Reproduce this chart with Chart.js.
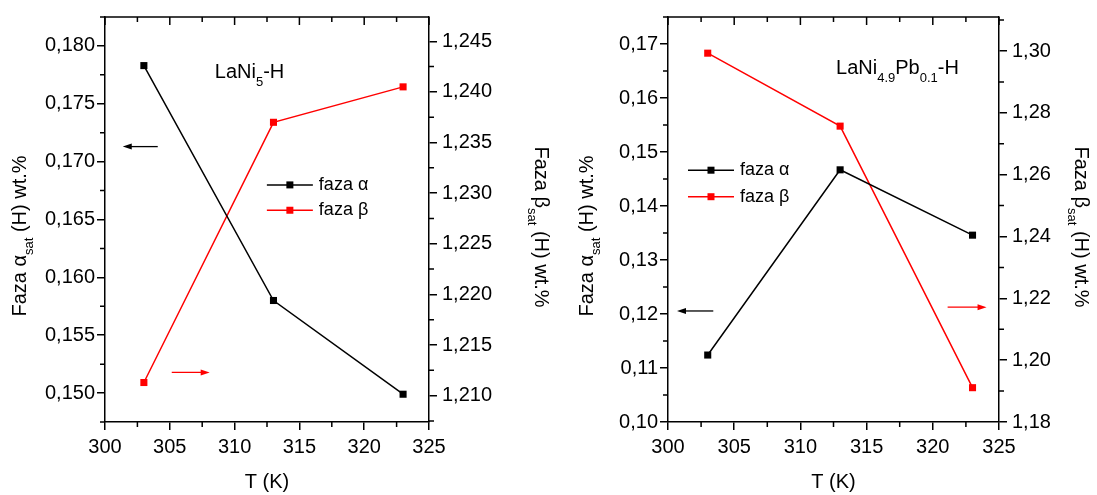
<!DOCTYPE html>
<html>
<head>
<meta charset="utf-8">
<script src="https://cdn.jsdelivr.net/npm/chart.js@4.4.0/dist/chart.umd.min.js"></script>
<style>
  html, body { margin: 0; padding: 0; background: #fff; }
  .panel { position: absolute; top: 0; height: 495px; }
</style>
</head>
<body>
<div class="panel" style="left:0;width:550px"><canvas id="c1" width="550" height="495"></canvas></div>
<div class="panel" style="left:550px;width:547px"><canvas id="c2" width="547" height="495"></canvas></div>
<script>
// Temperatura (K)
const temps = [303, 313, 323];

// LaNi5-H
const alphaLaNi5 = [0.1783, 0.1580, 0.1499];
const betaLaNi5 = [1.2113, 1.2370, 1.2405];

// LaNi4.9Pb0.1-H
const alphaPb = [0.1124, 0.1467, 0.1346];
const betaPb = [1.2993, 1.2757, 1.1911];

// Etiquetas de los ejes
const xTicks = [300, 305, 310, 315, 320, 325];
const leftTicks1 = [0.150, 0.155, 0.160, 0.165, 0.170, 0.175, 0.180];
const rightTicks1 = [1.210, 1.215, 1.220, 1.225, 1.230, 1.235, 1.240, 1.245];
const leftTicks2 = [0.10, 0.11, 0.12, 0.13, 0.14, 0.15, 0.16, 0.17];
const rightTicks2 = [1.18, 1.20, 1.22, 1.24, 1.26, 1.28, 1.30];

const seriesLabels = ["faza α", "faza β"];

const FAMILY = '"Liberation Sans", Arial, sans-serif';
const RED = "#ff0000";

function font(size) { return size + "px " + FAMILY; }

function drawRuns(ctx, runs, x, y) {
    runs.forEach(r => {
        ctx.font = r.font;
        ctx.fillText(r.t, x, y + (r.dy || 0));
        x += ctx.measureText(r.t).width;
    });
}

function runsWidth(ctx, runs) {
    let w = 0;
    runs.forEach(r => { ctx.font = r.font; w += ctx.measureText(r.t).width; });
    return w;
}

function arrow(ctx, x0, y, x1, color) {
    const dir = Math.sign(x1 - x0);
    ctx.strokeStyle = color;
    ctx.fillStyle = color;
    ctx.lineWidth = 1.3;
    ctx.beginPath();
    ctx.moveTo(x0, y);
    ctx.lineTo(x1 - dir * 6, y);
    ctx.stroke();
    ctx.beginPath();
    ctx.moveTo(x1, y);
    ctx.lineTo(x1 - dir * 9, y - 3);
    ctx.lineTo(x1 - dir * 9, y + 3);
    ctx.closePath();
    ctx.fill();
}

// Decoraciones: marco, ticks menores, flechas, texto y leyenda
function decorPlugin(p) {
    return {
        id: "decor",
        afterDraw(chart) {
            const ctx = chart.ctx;
            const a = chart.chartArea;
            const sx = chart.scales.x, sy = chart.scales.y, sy1 = chart.scales.y1;
            ctx.save();
            ctx.strokeStyle = "#000";
            ctx.lineWidth = 1.5;
            // borde superior
            ctx.beginPath();
            ctx.moveTo(a.left, a.top);
            ctx.lineTo(a.right, a.top);
            ctx.stroke();

            // ticks superiores (hacia dentro) y menores
            ctx.beginPath();
            for (let v = 300; v <= 325.001; v += 2.5) {
                const px = sx.getPixelForValue(v);
                const major = Math.abs(v % 5) < 1e-6;
                ctx.moveTo(px, a.top);
                ctx.lineTo(px, a.top + (major ? 8 : 5));
                if (!major) {
                    ctx.moveTo(px, a.bottom);
                    ctx.lineTo(px, a.bottom + 5);
                }
            }
            const minorY = (scale, step, x, dir) => {
                const majors = scale.ticks.map(t => t.value);
                for (let v = scale.min; v <= scale.max + step * 1e-6; v += step) {
                    const k = Math.round(v / step) * step;
                    if (k < scale.min - 1e-9 || k > scale.max + 1e-9) continue;
                    if (majors.some(m => Math.abs(m - k) < step * 1e-3)) continue;
                    const py = scale.getPixelForValue(k);
                    ctx.moveTo(x, py);
                    ctx.lineTo(x + dir * 5, py);
                }
            };
            minorY(sy, p.minorLeft, a.left, -1);
            minorY(sy1, p.minorRight, a.right, 1);
            ctx.stroke();

            // flechas
            arrow(ctx, sx.getPixelForValue(p.leftArrow[0]), sy.getPixelForValue(p.leftArrow[2]),
                  sx.getPixelForValue(p.leftArrow[1]), "#000");
            arrow(ctx, sx.getPixelForValue(p.rightArrow[0]), sy1.getPixelForValue(p.rightArrow[2]),
                  sx.getPixelForValue(p.rightArrow[1]), RED);

            ctx.fillStyle = "#000";
            ctx.textAlign = "left";
            ctx.textBaseline = "alphabetic";

            // nombre de la aleación
            drawRuns(ctx, p.name, sx.getPixelForValue(p.namePos[0]), sy.getPixelForValue(p.namePos[1]));

            // leyenda
            const lx = sx.getPixelForValue(p.legendPos[0]);
            p.legendPos[1].forEach((yv, i) => {
                const ly = sy.getPixelForValue(yv);
                const c = i === 0 ? "#000" : RED;
                ctx.strokeStyle = c;
                ctx.fillStyle = c;
                ctx.lineWidth = 1.5;
                ctx.beginPath();
                ctx.moveTo(lx, ly);
                ctx.lineTo(lx + 46, ly);
                ctx.stroke();
                ctx.fillRect(lx + 23 - 3.5, ly - 3.5, 7, 7);
                ctx.fillStyle = "#000";
                ctx.font = font(18);
                ctx.textBaseline = "middle";
                ctx.fillText(seriesLabels[i], lx + 52, ly);
            });
            ctx.textBaseline = "alphabetic";

            // títulos de ejes
            const sub = font(13);
            const big = font(20);
            const alphaTitle = [{ t: "Faza α", font: big }, { t: "sat", font: sub, dy: 7 }, { t: " (H) wt.%", font: big }];
            const betaTitle = [{ t: "Faza β", font: big }, { t: "sat", font: sub, dy: 7 }, { t: " (H) wt.%", font: big }];

            ctx.save();
            ctx.translate(p.leftTitle[0], p.leftTitle[1]);
            ctx.rotate(-Math.PI / 2);
            drawRuns(ctx, alphaTitle, -runsWidth(ctx, alphaTitle) / 2, 0);
            ctx.restore();

            ctx.save();
            ctx.translate(p.rightTitle[0], p.rightTitle[1]);
            ctx.rotate(Math.PI / 2);
            drawRuns(ctx, betaTitle, -runsWidth(ctx, betaTitle) / 2, 0);
            ctx.restore();

            ctx.font = big;
            ctx.textAlign = "center";
            ctx.fillText("T (K)", (a.left + a.right) / 2, 488);
            ctx.restore();
        }
    };
}

function makeChart(id, p) {
    const ds = (vals, color, axis) => ({
        data: temps.map((t, i) => ({ x: t, y: vals[i] })),
        yAxisID: axis,
        borderColor: color,
        backgroundColor: color,
        borderWidth: 1.5,
        pointStyle: "rect",
        pointRadius: 5,
        pointBorderWidth: 0,
        pointBackgroundColor: color,
        tension: 0
    });
    const tickOpts = (cb, pad) => ({
        color: "#000",
        font: { family: FAMILY, size: 20 },
        padding: pad,
        autoSkip: false,
        maxRotation: 0,
        callback: cb
    });
    const gridOpts = { drawOnChartArea: false, drawTicks: true, tickLength: 8, color: "#000", lineWidth: 1.5 };
    const borderOpts = { display: true, color: "#000", width: 1.5 };

    return new Chart(document.getElementById(id), {
        type: "line",
        data: {
            datasets: [ds(p.alpha, "#000", "y"), ds(p.beta, RED, "y1")]
        },
        options: {
            responsive: false,
            devicePixelRatio: 1,
            animation: false,
            layout: { padding: { top: 10, left: 0, right: 0, bottom: 0 } },
            plugins: { legend: { display: false }, tooltip: { enabled: false } },
            scales: {
                x: {
                    type: "linear", min: 300, max: 325,
                    afterBuildTicks: s => { s.ticks = xTicks.map(v => ({ value: v })); },
                    afterFit: s => { s.height = 73; },
                    grid: gridOpts, border: borderOpts,
                    ticks: tickOpts(v => String(v), 5)
                },
                y: {
                    type: "linear", position: "left", min: p.leftRange[0], max: p.leftRange[1],
                    afterBuildTicks: s => { s.ticks = p.leftTicks.map(v => ({ value: v })); },
                    afterFit: s => { s.width = p.leftWidth; },
                    grid: gridOpts, border: borderOpts,
                    ticks: tickOpts(v => v.toFixed(p.leftDec).replace(".", ","), 2)
                },
                y1: {
                    type: "linear", position: "right", min: p.rightRange[0], max: p.rightRange[1],
                    afterBuildTicks: s => { s.ticks = p.rightTicks.map(v => ({ value: v })); },
                    afterFit: s => { s.width = p.rightWidth; },
                    grid: gridOpts, border: borderOpts,
                    ticks: tickOpts(v => v.toFixed(p.rightDec).replace(".", ","), 5)
                }
            }
        },
        plugins: [decorPlugin(p)]
    });
}

document.addEventListener("DOMContentLoaded", () => {
    const sub = font(13), big = font(20);

    makeChart("c1", {
        alpha: alphaLaNi5, beta: betaLaNi5,
        leftTicks: leftTicks1, rightTicks: rightTicks1,
        leftRange: [0.1475, 0.1825], rightRange: [1.2074, 1.2474],
        leftDec: 3, rightDec: 3,
        minorLeft: 0.0025, minorRight: 0.0025,
        leftWidth: 105, rightWidth: 121,
        leftArrow: [304.07, 301.37, 0.1713],
        rightArrow: [305.15, 308.08, 1.2123],
        name: [{ t: "LaNi", font: big }, { t: "5", font: sub, dy: 8 }, { t: "-H", font: big }],
        namePos: [308.47, 0.17723],
        legendPos: [312.49, [0.16799, 0.1658]],
        leftTitle: [26, 236],
        rightTitle: [535, 227]
    });

    makeChart("c2", {
        alpha: alphaPb, beta: betaPb,
        leftTicks: leftTicks2, rightTicks: rightTicks2,
        leftRange: [0.10, 0.175], rightRange: [1.18, 1.311],
        leftDec: 2, rightDec: 2,
        minorLeft: 0.005, minorRight: 0.01,
        leftWidth: 118, rightWidth: 98,
        leftArrow: [303.42, 300.68, 0.12056],
        rightArrow: [321.12, 324.06, 1.21714],
        name: [{ t: "LaNi", font: big }, { t: "4.9", font: sub, dy: 8 }, { t: "Pb", font: big },
               { t: "0.1", font: sub, dy: 8 }, { t: "-H", font: big }],
        namePos: [312.69, 0.16436],
        legendPos: [301.51, [0.14663, 0.14172]],
        leftTitle: [43, 236],
        rightTitle: [525, 227]
    });
});
</script>
</body>
</html>
